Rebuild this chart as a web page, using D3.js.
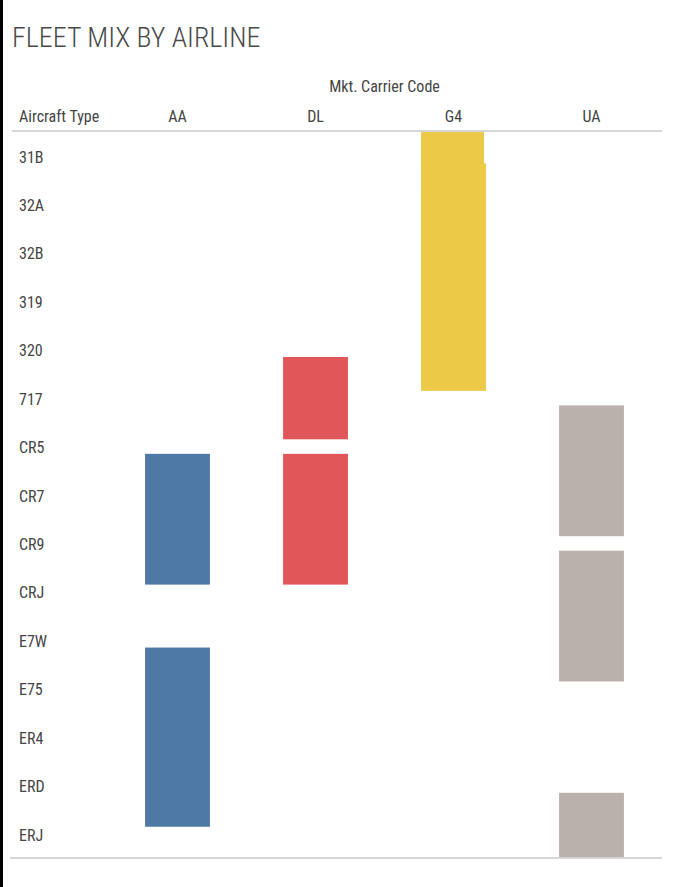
<!DOCTYPE html>
<html>
<head>
<meta charset="utf-8">
<script src="https://cdn.jsdelivr.net/npm/d3@7/dist/d3.min.js"></script>
<style>
  html, body { margin: 0; padding: 0; background: #fff; }
  svg { display: block; }
  text { font-family: "Liberation Sans Narrow", "Roboto Condensed", Roboto, sans-serif; fill: #454545; }
</style>
</head>
<body>
<script>
// Carriers (columns) and aircraft types (rows)
const carriers = ["AA", "DL", "G4", "UA"];
const aircraftTypes = ["31B", "32A", "32B", "319", "320", "717", "CR5", "CR7", "CR9", "CRJ", "E7W", "E75", "ER4", "ERD", "ERJ"];

// Fleet blocks: carrier, first type, last type (null first = continues above the first row)
const blockCarrier = ["G4",  "G4",  "DL",  "DL",  "AA",  "AA",  "UA",  "UA",  "UA"];
const blockFrom    = [null,  "31B", "320", "CR5", "CR5", "E7W", "717", "CR9", "ERD"];
const blockTo      = ["31B", "320", "717", "CR9", "CR9", "ERD", "CR7", "E7W", "ERJ"];

const carrierColors = ["#4e79a7", "#e15759", "#edc948", "#bab0ac"];

const W = 689, H = 887;
const svg = d3.select("body").append("svg").attr("width", W).attr("height", H);

// left frame edge
svg.append("rect").attr("x", 0).attr("y", 0).attr("width", 3).attr("height", H).attr("fill", "#000");

svg.append("text")
  .attr("x", 12).attr("y", 47)
  .style("font-size", "28px").style("font-weight", 300).style("fill", "#4a4a4a")
  .text("FLEET MIX BY AIRLINE");

const plotTop = 131, plotBottom = 858;

const x = d3.scaleBand().domain(carriers).range([108.5, 660.5]);
const y = d3.scalePoint().domain(aircraftTypes).range([156, 834]);
const color = d3.scaleOrdinal().domain(carriers).range(carrierColors);
const step = y.step();
const barW = x.bandwidth() * 0.47;

svg.append("defs").append("clipPath").attr("id", "plotClip")
  .append("rect").attr("x", 0).attr("y", plotTop + 1).attr("width", W).attr("height", plotBottom - plotTop - 1);

const blocks = blockCarrier.map((c, i) => ({ carrier: c, from: blockFrom[i], to: blockTo[i] }));
const blockTop = d => d.from === null ? plotTop - 10 : y(d.from) + step * 0.15;
const blockBottom = d => y(d.to) + step * 0.85;

const gBars = svg.append("g").attr("clip-path", "url(#plotClip)");
gBars.selectAll("rect").data(blocks).join("rect")
  .attr("x", d => x(d.carrier) + (x.bandwidth() - barW) / 2)
  .attr("width", d => d.from === null ? barW - 2 : barW)
  .attr("y", blockTop)
  .attr("height", d => blockBottom(d) - blockTop(d))
  .attr("fill", d => color(d.carrier));

// header and rule lines
svg.append("line").attr("x1", 12).attr("x2", 662).attr("y1", plotTop).attr("y2", plotTop)
  .attr("stroke", "#d6d6d6").attr("stroke-width", 2);
svg.append("line").attr("x1", 10).attr("x2", 662).attr("y1", plotBottom).attr("y2", plotBottom)
  .attr("stroke", "#d6d6d6").attr("stroke-width", 2);

svg.append("text")
  .attr("x", (x.range()[0] + x.range()[1]) / 2).attr("y", 92)
  .attr("text-anchor", "middle").style("font-size", "16px")
  .text("Mkt. Carrier Code");

svg.append("text").attr("x", 19).attr("y", 122).style("font-size", "16px").text("Aircraft Type");

svg.selectAll("text.col").data(carriers).join("text").attr("class", "col")
  .attr("x", d => x(d) + x.bandwidth() / 2).attr("y", 122)
  .attr("text-anchor", "middle").style("font-size", "16px")
  .text(d => d);

svg.selectAll("text.row").data(aircraftTypes).join("text").attr("class", "row")
  .attr("x", 19).attr("y", d => y(d) + 6.5)
  .style("font-size", "16px")
  .text(d => d);
</script>
</body>
</html>
